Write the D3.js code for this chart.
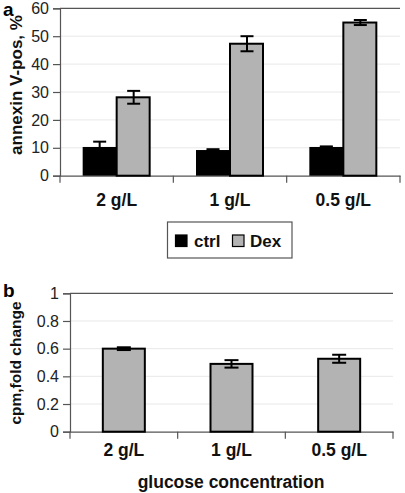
<!DOCTYPE html>
<html><head><meta charset="utf-8">
<script src="https://cdn.jsdelivr.net/npm/d3@7"></script>
<style>body{margin:0;background:#fff}svg{display:block}text{font-family:"Liberation Sans",Arial,sans-serif}</style>
</head><body>
<script>
const categories = ["2 g/L", "1 g/L", "0.5 g/L"];
const seriesA = ["ctrl", "Dex"];
const ctrlValues = [10.3, 9.2, 10.3];
const ctrlErrors = [1.9, 0.3, 0.2];
const dexValues = [28.1, 47.3, 54.9];
const dexErrors = [2.3, 2.7, 0.9];
const ticksA = [0, 10, 20, 30, 40, 50, 60];
const cpmValues = [0.60, 0.49, 0.527];
const cpmErrors = [0.01, 0.027, 0.029];
const ticksB = [0, 0.2, 0.4, 0.6, 0.8, 1];

const W = 405, H = 493;
const svg = d3.select("body").append("svg").attr("width", W).attr("height", H);
const gray = "#b3b3b3", grid = "#e8e8e8";
const FF = "'Liberation Sans',Arial,sans-serif";

function panel(opt) {
  const g = svg.append("g");
  const x = d3.scaleBand().domain(categories).range([opt.x0, opt.x1]);
  const y = d3.scaleLinear().domain([0, opt.max]).range([opt.y0, opt.y1]);
  g.selectAll(".grid").data(opt.ticks.slice(1, -1)).join("line")
    .attr("x1", opt.x0).attr("x2", opt.x1)
    .attr("y1", d => y(d)).attr("y2", d => y(d))
    .attr("stroke", grid).attr("stroke-width", 1);
  g.append("line").attr("x1", opt.x0).attr("x2", opt.x1)
    .attr("y1", y(opt.max)).attr("y2", y(opt.max)).attr("stroke", "#555").attr("stroke-width", 1.2);
  const ya = g.append("g").attr("transform", `translate(${opt.x0},0)`)
    .call(d3.axisLeft(y).tickValues(opt.ticks).tickSize(7).tickPadding(4).tickFormat(opt.fmt));
  ya.selectAll("path,line").attr("stroke", "#555").attr("stroke-width", 1.2);
  ya.selectAll("text").attr("font-size", 16).attr("fill", "#222").style("font-family", FF);
  const xa = g.append("g").attr("transform", `translate(0,${opt.y0})`)
    .call(d3.axisBottom(x).tickSize(0).tickPadding(opt.xpad).tickFormat(d => d));
  xa.select("path").attr("stroke", "#555").attr("stroke-width", 1.2);
  xa.selectAll("text").attr("font-size", 17.5).attr("font-weight", "bold").attr("fill", "#111").style("font-family", FF);
  const bounds = [opt.x0].concat(categories.map(c => x(c) + x.bandwidth()));
  g.selectAll(".bt").data(bounds).join("line")
    .attr("x1", d => d).attr("x2", d => d).attr("y1", opt.y0).attr("y2", opt.y0 + 7)
    .attr("stroke", "#555").attr("stroke-width", 1.2);
  return {g, x, y};
}

// Panel a
const A = panel({x0: 60, x1: 400, y0: 175.7, y1: 8.3, max: 60, ticks: ticksA, fmt: d3.format("d"), xpad: 18});
{
  const bw = 34;
  const cx = c => A.x(c) + A.x.bandwidth() / 2;
  A.g.selectAll(".ctrl").data(categories).join("rect")
    .attr("x", c => cx(c) - bw).attr("width", bw)
    .attr("y", (c, i) => A.y(ctrlValues[i])).attr("height", (c, i) => A.y(0) - A.y(ctrlValues[i]))
    .attr("fill", "#000");
  A.g.selectAll(".dex").data(categories).join("rect")
    .attr("x", c => cx(c)).attr("width", bw - 1)
    .attr("y", (c, i) => A.y(dexValues[i])).attr("height", (c, i) => A.y(0) - A.y(dexValues[i]))
    .attr("fill", gray).attr("stroke", "#000").attr("stroke-width", 2);
  const eb = (vals, errs, off) => {
    categories.forEach((c, i) => {
      const xc = cx(c) + off;
      const ylo = A.y(vals[i] - errs[i]), yhi = A.y(vals[i] + errs[i]);
      A.g.append("line").attr("x1", xc).attr("x2", xc).attr("y1", ylo).attr("y2", yhi).attr("stroke", "#000").attr("stroke-width", 2);
      [ylo, yhi].forEach(yy => A.g.append("line").attr("x1", xc - 6.5).attr("x2", xc + 6.5).attr("y1", yy).attr("y2", yy).attr("stroke", "#000").attr("stroke-width", 2));
    });
  };
  eb(ctrlValues, ctrlErrors, -bw / 2);
  eb(dexValues, dexErrors, bw / 2);
}
svg.append("text").attr("x", 3).attr("y", 16).attr("font-size", 19).attr("font-weight", "bold").text("a");
svg.append("text").attr("transform", "translate(22,85) rotate(-90)").attr("text-anchor", "middle")
  .attr("font-size", 17).attr("font-weight", "bold").attr("fill", "#111").text("annexin V-pos, %");

// legend
{
  const lg = svg.append("g");
  lg.append("rect").attr("x", 167.5).attr("y", 222).attr("width", 124.5).attr("height", 36)
    .attr("fill", "#fff").attr("stroke", "#555").attr("stroke-width", 1.2);
  const items = [{name: seriesA[0], fill: "#000", x: 175, tx: 194}, {name: seriesA[1], fill: gray, x: 232, tx: 250}];
  items.forEach(it => {
    lg.append("rect").attr("x", it.x + 0.5).attr("y", 235).attr("width", 11.5).attr("height", 11.5)
      .attr("fill", it.fill).attr("stroke", "#000").attr("stroke-width", 1.2);
    lg.append("text").attr("x", it.tx).attr("y", 246.5).attr("font-size", 17).attr("font-weight", "bold").attr("fill", "#111").text(it.name);
  });
}

// Panel b
const B = panel({x0: 70, x1: 393, y0: 431.7, y1: 293.3, max: 1, ticks: ticksB, fmt: d => d === 0 || d === 1 ? d3.format("d")(d) : d3.format(".1f")(d), xpad: 12});
{
  const bw = 42;
  const cx = c => B.x(c) + B.x.bandwidth() / 2;
  B.g.selectAll(".cpm").data(categories).join("rect")
    .attr("x", c => cx(c) - bw / 2).attr("width", bw)
    .attr("y", (c, i) => B.y(cpmValues[i])).attr("height", (c, i) => B.y(0) - B.y(cpmValues[i]))
    .attr("fill", gray).attr("stroke", "#000").attr("stroke-width", 2);
  categories.forEach((c, i) => {
    const xc = cx(c);
    const ylo = B.y(cpmValues[i] - cpmErrors[i]), yhi = B.y(cpmValues[i] + cpmErrors[i]);
    B.g.append("line").attr("x1", xc).attr("x2", xc).attr("y1", ylo).attr("y2", yhi).attr("stroke", "#000").attr("stroke-width", 2);
    [ylo, yhi].forEach(yy => B.g.append("line").attr("x1", xc - 7).attr("x2", xc + 7).attr("y1", yy).attr("y2", yy).attr("stroke", "#000").attr("stroke-width", 2));
  });
}
svg.append("text").attr("x", 3).attr("y", 297).attr("font-size", 19).attr("font-weight", "bold").text("b");
svg.append("text").attr("transform", "translate(21,363) rotate(-90)").attr("text-anchor", "middle")
  .attr("font-size", 15.5).attr("font-weight", "bold").attr("fill", "#111").text("cpm,fold change");
svg.append("text").attr("x", 231).attr("y", 488).attr("text-anchor", "middle")
  .attr("font-size", 17.5).attr("font-weight", "bold").attr("fill", "#111").text("glucose concentration");
</script>
</body></html>
